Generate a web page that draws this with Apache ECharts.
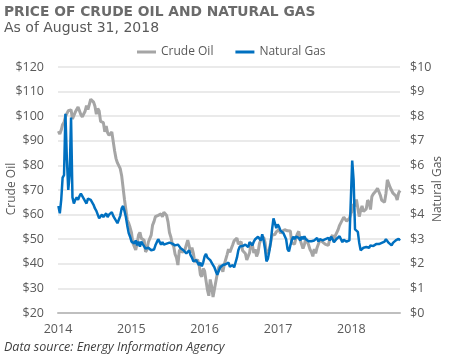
<!DOCTYPE html>
<html>
<head>
<meta charset="utf-8">
<script src="https://cdn.jsdelivr.net/npm/echarts@6/dist/echarts.min.js"></script>
<style>html,body{margin:0;padding:0;background:#fff}#c{width:450px;height:360px}</style>
</head>
<body>
<div id="c"></div>
<script>
// Weekly (Friday) observations starting 2014-01-03
const crude2014 = [93.96,92.72,94.37,96.64,97.49,99.88,100.30,102.20,102.59,102.58,98.89,99.46,101.67,101.14,103.74,104.30,100.60,99.76,99.99,102.02,104.35,102.71,102.66,106.91,107.26,105.74,104.06,100.83,103.13,102.09,97.88,97.65,97.35,93.65,95.96,93.29,92.27,92.41,93.54,89.74,85.82,82.75,81.01,80.54,78.65,75.82,76.51,66.15,65.84,57.81,56.52,54.73];
const crude2015 = [52.69,48.36,48.69,45.59,48.24,51.69,52.78,50.34,49.76,49.61,44.84,45.72,48.87,49.14,51.64,55.74,57.15,59.15,59.39,59.69,59.72,60.30,59.13,60.96,61.2,59.63,56.93,52.74,50.89,48.14,47.12,43.87,42.50,39.5,45.22,46.05,44.63,44.68,45.70,45.54,49.63,47.26,44.60,46.59,44.29,40.74,40.39,41.71,39.97,35.62,34.73,38.10];
const crude2016 = [37.04,33.16,29.42,27.0,33.62,30.89,26.5,29.64,32.78,35.92,38.50,39.44,39.46,36.79,39.72,40.36,43.73,45.92,44.66,46.21,47.75,49.33,48.62,50.5,47.98,47.64,48.99,45.41,45.95,44.19,41.60,41.80,44.49,48.52,47.64,44.44,45.88,43.03,44.48,48.24,49.81,50.35,50.85,48.70,44.07,43.41,45.69,46.06,51.68,51.50,51.90,53.02,53.72];
const crude2017 = [53.99,52.37,53.22,53.17,53.83,53.86,53.40,53.99,53.33,48.49,48.78,47.97,50.60,52.24,53.18,49.62,49.33,46.22,47.84,50.33,49.80,47.66,45.83,44.74,43.01,46.04,44.23,46.54,45.77,49.71,49.58,48.82,48.51,47.87,47.29,47.48,49.89,50.66,51.67,49.29,51.45,51.47,53.90,55.64,56.74,56.55,58.95,58.36,57.36,57.30,58.47,60.42];
const crude2018 = [61.44,64.30,63.37,66.14,65.45,59.20,61.68,63.55,61.25,62.04,62.34,65.88,64.94,62.06,67.39,68.38,68.10,69.72,70.70,71.28,67.88,65.81,65.74,65.06,68.58,74.15,73.80,71.01,70.46,68.69,68.49,67.63,65.91,68.72,69.80];

const gas2014 = [4.35,4.05,4.6,5.5,5.6,8.1,6.3,5.0,5.6,7.95,4.7,4.45,4.6,4.7,4.6,4.75,4.85,4.75,4.65,4.55,4.45,4.65,4.72,4.6,4.5,4.4,4.25,4.15,4.0,3.85,3.9,4.0,3.9,3.95,4.05,3.9,4.0,3.92,4.1,3.95,3.85,3.75,3.65,3.6,3.95,4.25,4.35,4.15,3.9,3.55,3.25,3.1];
const gas2015 = [2.9,2.97,2.83,2.95,2.75,2.9,2.7,2.9,2.8,2.77,2.62,2.6,2.65,2.58,2.55,2.52,2.58,2.75,2.88,3.0,2.95,2.78,2.88,2.78,2.85,2.82,2.76,2.86,2.9,2.82,2.85,2.75,2.72,2.78,2.7,2.63,2.68,2.55,2.48,2.42,2.45,2.55,2.35,2.25,2.1,2.05,2.15,2.05,1.95,2.05,1.9,2.05];
const gas2016 = [2.3,2.4,2.25,2.3,2.15,2.05,1.95,1.85,1.7,1.55,1.7,1.85,1.9,1.95,1.9,1.98,1.95,2.05,1.88,1.9,1.95,1.85,1.8,2.25,2.55,2.7,2.78,2.72,2.68,2.78,2.72,2.68,2.88,2.8,2.75,2.9,3.0,2.95,3.1,3.15,2.95,3.2,2.95,2.6,2.1,2.2,2.5,2.85,3.4,3.85,3.65,3.45,3.6];
const gas2017 = [3.5,3.35,3.4,3.25,3.3,3.0,2.6,2.5,2.75,2.95,3.1,3.0,3.1,3.05,3.05,2.95,3.1,3.0,3.12,3.0,2.98,2.92,3.0,2.92,3.0,2.95,2.95,3.05,2.9,3.0,2.92,2.95,2.88,3.0,2.92,3.05,2.95,3.1,3.0,2.88,2.95,3.02,3.1,3.12,3.0,2.88,2.98,3.0,2.9,2.85,2.95,2.95];
const gas2018 = [6.2,5.4,3.4,3.4,3.3,2.85,2.55,2.62,2.65,2.6,2.68,2.7,2.65,2.75,2.68,2.72,2.78,2.8,2.78,2.8,2.75,2.85,2.85,2.9,3.0,2.95,2.85,2.78,2.75,2.85,2.9,2.95,2.98,3.02,2.95];

const yearTicks = [2014, 2015, 2016, 2017, 2018];
const seriesNames = ['Crude Oil', 'Natural Gas'];

const crude = [].concat(crude2014, crude2015, crude2016, crude2017, crude2018);
const gas = [].concat(gas2014, gas2015, gas2016, gas2017, gas2018);
const dateAt = i => new Date(2014, 0, 3 + 7 * i).getTime();
const crudeData = crude.map((v, i) => [dateAt(i), v]);
const gasData = gas.map((v, i) => [dateAt(i), v]);
const tickVals = yearTicks.map(y => new Date(y, 0, 1).getTime());

const txt = '#595959';
const chart = echarts.init(document.getElementById('c'), null, {renderer: 'canvas'});
chart.setOption({
  animation: false,
  title: [
    {text: 'PRICE OF CRUDE OIL AND NATURAL GAS', left: 4, top: 5, padding: 0,
     textStyle: {fontFamily: 'DejaVu Sans', fontWeight: 'bold', fontSize: 13.8, color: '#6b6b6b'}},
    {text: 'As of August 31, 2018', left: 4, top: 21, padding: 0,
     textStyle: {fontFamily: 'DejaVu Sans', fontWeight: 'normal', fontSize: 14, color: txt}},
    {text: 'Data source: Energy Information Agency', left: 4, top: 341, padding: 0,
     textStyle: {fontFamily: 'Open Sans', fontStyle: 'italic', fontWeight: 'normal', fontSize: 12.5, color: '#404040'}}
  ],
  graphic: [
    {type: 'text', x: 12, y: 189, rotation: Math.PI / 2, silent: true,
     style: {text: seriesNames[0], fontFamily: 'Open Sans', fontSize: 12, fill: txt, align: 'center', verticalAlign: 'middle'}},
    {type: 'text', x: 438, y: 189, rotation: Math.PI / 2, silent: true,
     style: {text: seriesNames[1], fontFamily: 'Open Sans', fontSize: 12, fill: txt, align: 'center', verticalAlign: 'middle'}}
  ],
  legend: {
    left: 137, top: 46, padding: 0, itemWidth: 19, itemHeight: 3, itemGap: 22, icon: 'rect',
    textStyle: {fontFamily: 'Open Sans', fontSize: 12, color: txt},
    data: seriesNames
  },
  grid: {left: 58, right: 50, top: 67, bottom: 47, containLabel: false, outerBoundsMode: 'none'},
  xAxis: {
    type: 'value',
    min: tickVals[0],
    max: new Date(2018, 7, 31).getTime(),
    axisLine: {show: true, onZero: false, lineStyle: {color: '#bfbfbf', width: 2}},
    axisTick: {show: false},
    splitLine: {show: false},
    axisLabel: {
      customValues: tickVals,
      formatter: v => String(new Date(v).getFullYear()),
      fontFamily: 'Open Sans', fontSize: 12.5, color: txt, margin: 10
    }
  },
  yAxis: [
    {
      type: 'value', min: 20, max: 120, interval: 10, position: 'left',
      axisLine: {show: false}, axisTick: {show: false},
      axisLabel: {formatter: '${value}', fontFamily: 'Open Sans', fontSize: 12.5, color: txt, margin: 14},
      splitLine: {lineStyle: {color: '#e3e3e3', width: 1.5}}
    },
    {
      type: 'value', min: 0, max: 10, interval: 1, position: 'right',
      axisLine: {show: false}, axisTick: {show: false},
      axisLabel: {formatter: '${value}', fontFamily: 'Open Sans', fontSize: 12.5, color: txt, margin: 10},
      splitLine: {show: false}
    }
  ],
  series: [
    {name: seriesNames[0], type: 'line', yAxisIndex: 0, data: crudeData, showSymbol: false,
     color: '#a5a5a5', lineStyle: {color: '#a5a5a5', width: 3}},
    {name: seriesNames[1], type: 'line', yAxisIndex: 1, data: gasData, showSymbol: false,
     color: '#0070c0', lineStyle: {color: '#0070c0', width: 2.5}}
  ]
});
</script>
</body>
</html>
